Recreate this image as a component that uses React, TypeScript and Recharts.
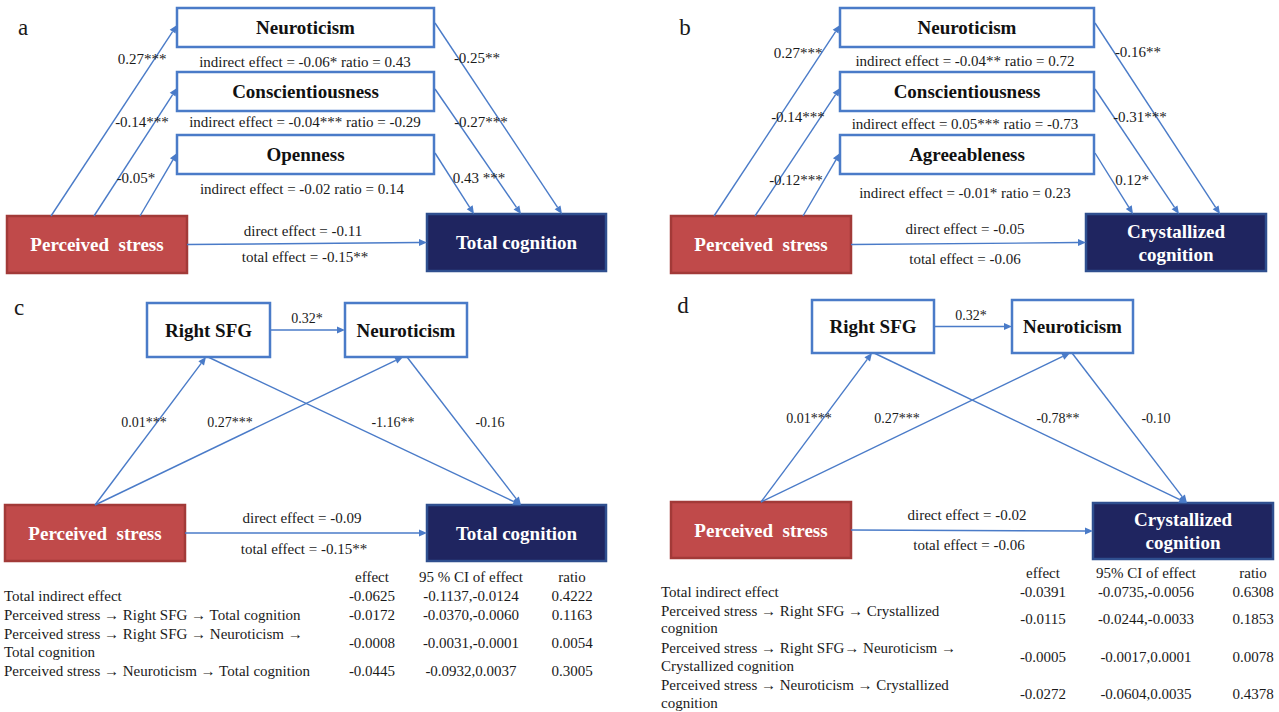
import React from "react";
import {
  ReferenceArea,
  ReferenceLine,
  Scatter,
  ScatterChart,
  XAxis,
  YAxis,
} from "recharts";

const W = 1279;
const H = 712;
const BLUE = "#4a7bc8";
const SERIF = "'Liberation Serif', 'Times New Roman', serif";

// ---- data ----
const panelLetters = ["a", "b", "c", "d"];

const aMediators = ["Neuroticism", "Conscientiousness", "Openness"];
const aPathA = ["0.27***", "-0.14***", "-0.05*"];
const aPathB = ["-0.25**", "-0.27***", "0.43 ***"];
const aIndirect = [
  "indirect effect = -0.06* ratio = 0.43",
  "indirect effect = -0.04*** ratio = -0.29",
  "indirect effect = -0.02 ratio = 0.14",
];
const aEffects = ["direct effect = -0.11", "total effect = -0.15**"];

const bMediators = ["Neuroticism", "Conscientiousness", "Agreeableness"];
const bPathA = ["0.27***", "-0.14***", "-0.12***"];
const bPathB = ["-0.16**", "-0.31***", "0.12*"];
const bIndirect = [
  "indirect effect = -0.04** ratio = 0.72",
  "indirect effect = 0.05*** ratio = -0.73",
  "indirect effect = -0.01* ratio = 0.23",
];
const bEffects = ["direct effect = -0.05", "total effect = -0.06"];

const cPaths = ["0.32*", "0.01***", "0.27***", "-1.16**", "-0.16"];
const cEffects = ["direct effect = -0.09", "total effect = -0.15**"];
const cHeader = ["effect", "95 % CI of effect", "ratio"];
const cRowLabels = [
  ["Total indirect effect"],
  ["Perceived stress \u2192 Right SFG \u2192 Total cognition"],
  ["Perceived stress \u2192 Right SFG \u2192 Neuroticism \u2192", "Total cognition"],
  ["Perceived stress \u2192 Neuroticism \u2192 Total cognition"],
];
const cEffect = ["-0.0625", "-0.0172", "-0.0008", "-0.0445"];
const cCI = ["-0.1137,-0.0124", "-0.0370,-0.0060", "-0.0031,-0.0001", "-0.0932,0.0037"];
const cRatio = ["0.4222", "0.1163", "0.0054", "0.3005"];

const dPaths = ["0.32*", "0.01***", "0.27***", "-0.78**", "-0.10"];
const dEffects = ["direct effect = -0.02", "total effect = -0.06"];
const dHeader = ["effect", "95% CI of effect", "ratio"];
const dRowLabels = [
  ["Total indirect effect"],
  ["Perceived stress \u2192 Right SFG \u2192 Crystallized", "cognition"],
  ["Perceived stress \u2192 Right SFG\u2192 Neuroticism \u2192", "Crystallized cognition"],
  ["Perceived stress \u2192 Neuroticism \u2192 Crystallized", "cognition"],
];
const dEffect = ["-0.0391", "-0.0115", "-0.0005", "-0.0272"];
const dCI = ["-0.0735,-0.0056", "-0.0244,-0.0033", "-0.0017,0.0001", "-0.0604,0.0035"];
const dRatio = ["0.6308", "0.1853", "0.0078", "0.4378"];

// ---- layout (diagram coordinates, same units as the axes) ----
type Box = { x1: number; y1: number; x2: number; y2: number; kind: string; lines: string[] };
type Arrow = [number, number, number, number];
type Txt = { x: number; y: number; text: string };

const boxes: Box[] = [];
const arrows: Arrow[] = [];
const midTexts: Txt[] = []; // 15px, centred
const coefTexts: Txt[] = []; // path coefficients
const smallCoef: Txt[] = [];
const tableLeft: Txt[] = [];
const tableCenter: Txt[] = [];
const letters: Txt[] = [];

// panel a / b
const topLayouts = [
  {
    left: 177, right: 434, stress: [7, 216, 187, 273], out: [427, 214, 606, 271],
    outLines: ["Total cognition"], starts: [51, 94, 140], ends: [562, 521, 474],
    coefA: [[142, 59], [142, 122], [136, 178]], coefB: [[477, 58], [481, 122], [479, 178]],
    ind: [[305, 62], [305, 122], [302, 189]], eff: [[303, 231], [305, 257]], letter: [23, 27],
    mediators: aMediators, pathA: aPathA, pathB: aPathB, indirect: aIndirect, effects: aEffects,
  },
  {
    left: 840, right: 1094, stress: [671, 216, 851, 273], out: [1086, 214, 1266, 271],
    outLines: ["Crystallized", "cognition"], starts: [714, 755, 803], ends: [1220, 1179, 1133],
    coefA: [[798, 53], [798, 117], [796, 180]], coefB: [[1138, 52], [1140, 117], [1132, 180]],
    ind: [[965, 61], [965, 124], [965, 193]], eff: [[965, 229], [965, 259]], letter: [685, 27],
    mediators: bMediators, pathA: bPathA, pathB: bPathB, indirect: bIndirect, effects: bEffects,
  },
];
const medRows = [[8, 47], [72, 111], [135, 174]];
const medArrowY = [[25, 23], [88, 89], [153, 153]];

topLayouts.forEach((L, p) => {
  L.mediators.forEach((m, i) => {
    boxes.push({ x1: L.left, y1: medRows[i][0], x2: L.right, y2: medRows[i][1], kind: "white", lines: [m] });
    arrows.push([L.starts[i], L.stress[1], L.left, medArrowY[i][0]]);
    arrows.push([L.right + 1, medArrowY[i][1], L.ends[i], L.out[1]]);
    coefTexts.push({ x: L.coefA[i][0], y: L.coefA[i][1], text: L.pathA[i] });
    coefTexts.push({ x: L.coefB[i][0], y: L.coefB[i][1], text: L.pathB[i] });
    midTexts.push({ x: L.ind[i][0], y: L.ind[i][1], text: L.indirect[i] });
  });
  const [sx1, sy1, sx2, sy2] = L.stress;
  const [ox1, oy1, ox2, oy2] = L.out;
  boxes.push({ x1: sx1, y1: sy1, x2: sx2, y2: sy2, kind: "red", lines: ["Perceived  stress"] });
  boxes.push({ x1: ox1, y1: oy1, x2: ox2, y2: oy2, kind: "navy", lines: L.outLines });
  arrows.push([sx2, (sy1 + sy2) / 2, ox1, (oy1 + oy2) / 2]);
  L.effects.forEach((e, i) => midTexts.push({ x: L.eff[i][0], y: L.eff[i][1], text: e }));
  letters.push({ x: L.letter[0], y: L.letter[1], text: panelLetters[p] });
});

// panel c / d
const botLayouts = [
  {
    sfg: [147, 303, 270, 357], neu: [345, 303, 467, 357], stress: [5, 505, 185, 561], out: [427, 505, 606, 561],
    outLines: ["Total cognition"], root: [95, 505], sink: [521, 505], sfgTip: [206, 208], neuTip: [403, 407],
    coef: [[307, 318], [144, 422], [230, 422], [393, 422], [490, 422]], eff: [[302, 518], [304, 549]],
    letter: [19, 307], paths: cPaths, effects: cEffects, header: cHeader, hx: [372, 471, 572], hy: 577,
    labels: cRowLabels, effect: cEffect, ci: cCI, ratio: cRatio, lx: 4,
    rowY: [[596], [615], [634, 652], [671]], valY: [596, 615, 643, 671],
  },
  {
    sfg: [812, 300, 934, 353], neu: [1012, 300, 1133, 353], stress: [671, 502, 851, 558], out: [1093, 503, 1273, 559],
    outLines: ["Crystallized", "cognition"], root: [761, 502], sink: [1187, 503], sfgTip: [872, 874], neuTip: [1070, 1072],
    coef: [[971, 315], [809, 418], [897, 418], [1058, 418], [1156, 418]], eff: [[967, 515], [969, 545]],
    letter: [683, 305], paths: dPaths, effects: dEffects, header: dHeader, hx: [1043, 1146, 1253], hy: 573,
    labels: dRowLabels, effect: dEffect, ci: dCI, ratio: dRatio, lx: 661,
    rowY: [[592], [611, 628], [648, 666], [685, 703]], valY: [592, 619, 657, 694],
  },
];

botLayouts.forEach((L, p) => {
  const [a1, a2, a3, a4] = L.sfg;
  const [n1, n2, n3, n4] = L.neu;
  const [sx1, sy1, sx2, sy2] = L.stress;
  const [ox1, oy1, ox2, oy2] = L.out;
  boxes.push({ x1: a1, y1: a2, x2: a3, y2: a4, kind: "white", lines: ["Right SFG"] });
  boxes.push({ x1: n1, y1: n2, x2: n3, y2: n4, kind: "white", lines: ["Neuroticism"] });
  boxes.push({ x1: sx1, y1: sy1, x2: sx2, y2: sy2, kind: "red", lines: ["Perceived  stress"] });
  boxes.push({ x1: ox1, y1: oy1, x2: ox2, y2: oy2, kind: "navy", lines: L.outLines });
  arrows.push([a3, (a2 + a4) / 2, n1, (n2 + n4) / 2]);
  arrows.push([L.root[0], L.root[1], L.sfgTip[0], a4]);
  arrows.push([L.root[0], L.root[1], L.neuTip[0], n4]);
  arrows.push([L.sfgTip[1], a4, L.sink[0], L.sink[1]]);
  arrows.push([L.neuTip[1], n4, L.sink[0], L.sink[1]]);
  arrows.push([sx2, (sy1 + sy2) / 2, ox1, (oy1 + oy2) / 2]);
  L.paths.forEach((t, i) => smallCoef.push({ x: L.coef[i][0], y: L.coef[i][1], text: t }));
  L.effects.forEach((e, i) => midTexts.push({ x: L.eff[i][0], y: L.eff[i][1], text: e }));
  letters.push({ x: L.letter[0], y: L.letter[1], text: panelLetters[p + 2] });
  L.header.forEach((h, i) => tableCenter.push({ x: L.hx[i], y: L.hy, text: h }));
  L.labels.forEach((lines, r) => {
    lines.forEach((ln, k) => tableLeft.push({ x: L.lx, y: L.rowY[r][k], text: ln }));
    tableCenter.push({ x: L.hx[0], y: L.valY[r], text: L.effect[r] });
    tableCenter.push({ x: L.hx[1], y: L.valY[r], text: L.ci[r] });
    tableCenter.push({ x: L.hx[2], y: L.valY[r], text: L.ratio[r] });
  });
});

const boxStyle: Record<string, { fill: string; stroke: string; color: string }> = {
  white: { fill: "#ffffff", stroke: BLUE, color: "#111111" },
  red: { fill: "#c04a4a", stroke: "#a23a38", color: "#ffffff" },
  navy: { fill: "#1f2560", stroke: "#2f4f8f", color: "#ffffff" },
};

function BoxShape(props: any) {
  const { x, y, width, height, box } = props;
  const s = boxStyle[box.kind];
  const cx = x + width / 2;
  const cy = y + height / 2;
  const n = box.lines.length;
  return (
    <g>
      <rect x={x} y={y} width={width} height={height} fill={s.fill} stroke={s.stroke} strokeWidth={2.5} />
      {box.lines.map((ln: string, i: number) => (
        <text
          key={i}
          x={cx}
          y={cy + (i - (n - 1) / 2) * 23}
          textAnchor="middle"
          dominantBaseline="central"
          fontFamily={SERIF}
          fontWeight="bold"
          fontSize={19}
          fill={s.color}
          style={{ whiteSpace: "pre" }}
        >
          {ln}
        </text>
      ))}
    </g>
  );
}

function ArrowShape(props: any) {
  const { x1, y1, x2, y2 } = props;
  if ([x1, y1, x2, y2].some((v) => v == null || isNaN(v))) return <g />;
  const ang = Math.atan2(y2 - y1, x2 - x1);
  const len = 8;
  const half = 3.5;
  const bx = x2 - len * Math.cos(ang);
  const by = y2 - len * Math.sin(ang);
  const px = -Math.sin(ang) * half;
  const py = Math.cos(ang) * half;
  return (
    <g>
      <line x1={x1} y1={y1} x2={bx} y2={by} stroke={BLUE} strokeWidth={1.4} />
      <polygon points={`${x2},${y2} ${bx + px},${by + py} ${bx - px},${by - py}`} fill={BLUE} />
    </g>
  );
}

function textShape(size: number, anchor: "start" | "middle") {
  return (props: any) => (
    <text
      x={props.cx}
      y={props.cy}
      textAnchor={anchor}
      dominantBaseline="central"
      fontFamily={SERIF}
      fontSize={size}
      fill="#1a1a1a"
      style={{ whiteSpace: "pre" }}
    >
      {props.payload.text}
    </text>
  );
}

export default function App() {
  return (
    <div style={{ width: W, height: H, background: "#ffffff" }}>
      <style>{"body{margin:0}"}</style>
      <ScatterChart width={W} height={H} margin={{ top: 0, right: 0, bottom: 0, left: 0 }}>
        <XAxis type="number" dataKey="x" domain={[0, W]} hide allowDataOverflow />
        <YAxis type="number" dataKey="y" domain={[0, H]} reversed hide allowDataOverflow />
        {arrows.map((a, i) => (
          <ReferenceLine
            key={`ar${i}`}
            segment={[
              { x: a[0], y: a[1] },
              { x: a[2], y: a[3] },
            ]}
            shape={ArrowShape}
          />
        ))}
        {boxes.map((b, i) => (
          <ReferenceArea
            key={`bx${i}`}
            x1={b.x1}
            x2={b.x2}
            y1={b.y1}
            y2={b.y2}
            shape={(p: any) => <BoxShape {...p} box={b} />}
          />
        ))}
        <Scatter data={midTexts} shape={textShape(15, "middle")} isAnimationActive={false} />
        <Scatter data={coefTexts} shape={textShape(15, "middle")} isAnimationActive={false} />
        <Scatter data={smallCoef} shape={textShape(14, "middle")} isAnimationActive={false} />
        <Scatter data={tableLeft} shape={textShape(15, "start")} isAnimationActive={false} />
        <Scatter data={tableCenter} shape={textShape(15, "middle")} isAnimationActive={false} />
        <Scatter data={letters} shape={textShape(23, "middle")} isAnimationActive={false} />
      </ScatterChart>
    </div>
  );
}
